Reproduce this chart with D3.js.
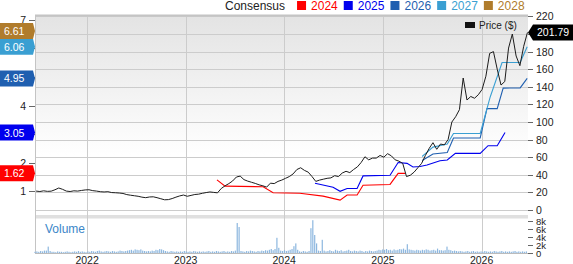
<!DOCTYPE html>
<html>
<head>
<meta charset="utf-8">
<script src="https://cdn.jsdelivr.net/npm/d3@7"></script>
<style>
  body { margin: 0; background: #fff; }
  svg { display: block; font-family: "Liberation Sans", Arial, sans-serif; }
</style>
</head>
<body>
<div id="chart"></div>
<script>

// data

const PRICE_START = "2021-06-26";   // one close every two weeks
const PRICE_BIWEEKLY = [
  21.5, 21, 21.8, 21.2, 21.4, 23, 25, 23.5, 21.5, 21,
  21.8, 21.5, 22.2, 22.8, 23, 22, 21.5, 20.8, 20.5, 20.8,
  19.8, 19.6, 19.3, 18.8, 17.5, 16.8, 16.2, 15.6, 14.6, 14,
  14.8, 15, 14, 12.8, 11.6, 11.8, 13, 14.6, 16, 17,
  15.6, 16.6, 17.6, 18, 19, 19.8, 20.5, 20, 19.5, 24.5,
  27.5, 30, 33, 37.5, 38.5, 34.5, 32.8, 31.5, 30.2, 28.6,
  27.5, 26, 30.5, 30, 32.5, 34, 36, 38, 41, 46,
  48, 45, 43, 38, 32.5, 34, 35, 36, 36.5, 39,
  38, 42, 44, 42.5, 46, 49, 54, 60.5, 57, 59,
  59, 62, 60, 64, 61.5, 57, 55.5, 53, 38, 39.5,
  43, 48, 53, 62, 70, 76.5, 69, 75, 74, 80,
  100, 106, 114, 150, 125, 129, 127, 131, 137, 152,
  178, 180, 160, 142, 146, 184, 200, 175, 164, 186,
  201.79
];
const LAST_PRICE = 201.79;

const VOLUME_START = "2021-06-22";  // weekly, thousands
const VOLUME_WEEKLY_K = [
  0.3, 0.4, 0.3, 0.5, 0.4, 0.6, 0.6, 1.6, 0.5, 0.3,
  0.3, 0.2, 0.4, 0.3, 0.3, 0.2, 0.3, 0.4, 0.3, 0.2,
  0.3, 0.4, 0.3, 0.5, 0.3, 0.4, 0.3, 0.2, 0.4, 0.3,
  0.5, 0.4, 0.3, 0.5, 0.6, 0.4, 0.3, 0.4, 0.5, 0.4,
  0.3, 0.5, 0.4, 0.3, 0.4, 0.6, 0.5, 0.4, 0.5, 0.6,
  0.7, 0.8, 0.6, 0.9, 0.8, 0.7, 0.9, 0.6, 0.5, 0.4,
  0.5, 0.4, 0.6, 0.5, 0.8, 0.7, 1.0, 0.9, 0.7, 0.5,
  0.4, 0.3, 0.5, 0.4, 0.3, 0.4, 0.3, 0.4, 0.3, 0.5,
  0.4, 0.3, 0.4, 0.3, 0.5, 0.4, 0.3, 0.4, 0.3, 0.4,
  0.3, 0.4, 0.5, 0.3, 0.4, 0.3, 0.5, 0.4, 0.3, 0.4,
  0.5, 0.3, 0.4, 0.3, 0.5, 0.4, 0.6, 7.5, 6.5, 0.5,
  0.4, 0.3, 0.5, 0.4, 0.6, 0.5, 0.4, 0.3, 0.5, 0.4,
  0.6, 0.5, 0.7, 0.6, 0.8, 1.0, 0.7, 1.0, 3.8, 1.3,
  0.6, 0.5, 0.7, 0.5, 0.6, 0.8, 1.0, 1.7, 2.4, 0.8,
  0.4, 0.3, 0.5, 0.4, 0.3, 0.5, 6.2, 8.2, 4.5, 2.4,
  0.6, 0.5, 3.3, 0.6, 0.4, 0.5, 0.7, 0.5, 0.4, 0.8,
  0.6, 0.5, 0.7, 0.4, 0.5, 0.6, 0.8, 0.5, 0.4, 0.6,
  0.5, 0.4, 0.6, 0.5, 0.3, 0.5, 0.4, 0.6, 0.5, 0.4,
  0.5, 0.6, 0.8, 0.7, 0.9, 0.8, 1.0, 0.7, 0.8, 0.6,
  0.9, 0.7, 0.8, 1.0, 0.9, 1.1, 0.8, 2.2, 0.9, 0.8,
  0.7, 0.6, 0.8, 0.7, 0.6, 0.8, 0.7, 0.9, 0.8, 0.6,
  0.7, 0.8, 0.6, 1.1, 0.7, 0.7, 0.6, 0.7, 1.6, 0.8,
  0.7, 0.5, 0.6, 0.5, 0.4, 0.5, 0.4, 0.3, 0.4, 0.5,
  0.3, 0.4, 0.5, 0.3, 0.4, 0.3, 0.4, 0.3, 0.5, 0.4,
  0.3, 0.4, 0.3, 0.5, 0.4, 0.3, 0.4, 0.5, 0.3, 0.4,
  0.3, 0.4, 0.3, 0.4, 0.5, 0.3, 0.4, 0.3, 0.4, 0.3,
  0.4
];

// consensus EPS estimates per fiscal year
const EPS_2024_DATES = ["2023-04-27", "2023-05-27", "2023-10-15", "2023-11-21", "2024-02-28",
                        "2024-05-24", "2024-07-26", "2024-08-21", "2024-09-27", "2024-10-19",
                        "2025-01-27", "2025-02-26", "2025-03-24"];
const EPS_2024 = [1.39, 1.17, 1.15, 0.94, 0.92, 0.82, 0.68, 0.86, 0.86, 1.2, 1.23, 1.62, 1.62];

const EPS_2025_DATES = ["2024-04-24", "2024-06-30", "2024-07-26", "2024-08-21", "2024-09-27",
                        "2024-10-19", "2025-01-27", "2025-02-26", "2025-03-31", "2025-04-22",
                        "2025-05-18", "2025-06-13", "2025-07-31", "2025-08-27", "2025-09-26",
                        "2025-12-27", "2026-01-25", "2026-02-28", "2026-03-29"];
const EPS_2025 = [1.27, 1.13, 0.99, 1.09, 1.09, 1.53, 1.55, 2.0, 1.97, 1.84,
                  1.86, 1.91, 2.06, 2.09, 2.32, 2.32, 2.59, 2.59, 3.05];

const EPS_2026_DATES = ["2025-05-26", "2025-07-05", "2025-08-27", "2025-09-19", "2025-12-27",
                        "2026-01-21", "2026-02-28", "2026-03-22", "2026-05-24", "2026-06-19"];
const EPS_2026 = [2.07, 2.30, 2.35, 2.86, 2.86, 3.89, 3.89, 4.61, 4.62, 4.95];

const EPS_2027_DATES = ["2025-05-26", "2025-07-05", "2025-08-27", "2025-09-19", "2025-12-27",
                        "2026-02-02", "2026-03-18", "2026-05-24", "2026-06-19"];
const EPS_2027 = [2.21, 2.54, 2.65, 3.02, 3.02, 4.3, 5.51, 5.51, 6.06];

const EPS_YEARS = ["2024", "2025", "2026", "2027", "2028"];
const EPS_LATEST = [1.62, 3.05, 4.95, 6.06, 6.61];

const PRICE_TICKS = [0, 20, 40, 60, 80, 100, 120, 140, 160, 180, 200, 220];
const EPS_TICKS = [1, 2, 3, 4, 5, 6, 7];
const VOLUME_TICKS = [0, 2, 4, 6, 8];
const YEAR_TICKS = ["2022", "2023", "2024", "2025", "2026"];


// layout

const FRAME_WIDTH = 573;
const FRAME_HEIGHT = 264;
const PLOT = {left: 35, right: 528, top: 15, bottom: 215};
const VOL = {top: 219, bottom: 253};
const COLORS = {"2024": "#ff0000", "2025": "#0000ee", "2026": "#1f5fb0",
                "2027": "#3a9fd2", "2028": "#b07c2c"};

const parse = d3.timeParse("%Y-%m-%d");

const X_SCALE = d3.scaleTime()
                  .domain([parse("2021-06-22"), parse("2026-06-22")])
                  .range([PLOT.left, PLOT.right]);
const PRICE_SCALE = d3.scaleLinear().domain([0, 221.6]).range([210, PLOT.top]);
const EPS_SCALE = d3.scaleLinear().domain([1, 7]).range([191, 20]);
const VOL_SCALE = d3.scaleLinear().domain([0, 8]).range([VOL.bottom, 221]);

const FRAME = d3.select("#chart")
                .append("svg")
                  .attr("width", FRAME_WIDTH)
                  .attr("height", FRAME_HEIGHT);


function build_chart() {

  // background of the price panel
  const grad = FRAME.append("defs").append("linearGradient")
                    .attr("id", "bg").attr("x1", 0).attr("x2", 0).attr("y1", 0).attr("y2", 1);
  grad.append("stop").attr("offset", "0%").attr("stop-color", "#e3e3e3");
  grad.append("stop").attr("offset", "70%").attr("stop-color", "#ffffff");

  FRAME.append("rect")
         .attr("x", PLOT.left).attr("y", PLOT.top)
         .attr("width", PLOT.right - PLOT.left).attr("height", PLOT.bottom - PLOT.top)
         .attr("fill", "url(#bg)");

  // band between the price and volume panels
  FRAME.append("rect")
         .attr("x", PLOT.left).attr("y", 215)
         .attr("width", PLOT.right - PLOT.left).attr("height", 3.5)
         .attr("fill", "#e0e0e0");

  // horizontal grid on price ticks
  FRAME.selectAll(".hgrid")
      .data(PRICE_TICKS)
      .enter()
      .append("line")
        .attr("x1", PLOT.left).attr("x2", PLOT.right)
        .attr("y1", (d) => Math.round(PRICE_SCALE(d)) + 0.5)
        .attr("y2", (d) => Math.round(PRICE_SCALE(d)) + 0.5)
        .attr("stroke", "#cccccc");

  // vertical grid on year starts
  FRAME.selectAll(".vgrid")
      .data(YEAR_TICKS)
      .enter()
      .append("line")
        .attr("x1", (d) => Math.round(X_SCALE(parse(d + "-01-01"))) + 0.5)
        .attr("x2", (d) => Math.round(X_SCALE(parse(d + "-01-01"))) + 0.5)
        .attr("y1", PLOT.top).attr("y2", VOL.bottom)
        .attr("stroke", "#cccccc");

  // frame lines
  FRAME.append("line")
         .attr("x1", PLOT.left + 0.5).attr("x2", PLOT.left + 0.5)
         .attr("y1", PLOT.top).attr("y2", VOL.bottom)
         .attr("stroke", "#c4c4c4");
  FRAME.append("line")
         .attr("x1", PLOT.left).attr("x2", PLOT.right)
         .attr("y1", PLOT.top + 0.5).attr("y2", PLOT.top + 0.5)
         .attr("stroke", "#c4c4c4").attr("stroke-width", 2);
  FRAME.append("line")
         .attr("x1", PLOT.left).attr("x2", PLOT.right)
         .attr("y1", VOL.bottom + 0.5).attr("y2", VOL.bottom + 0.5)
         .attr("stroke", "#bbbbbb");

  // volume bars
  const volStart = parse(VOLUME_START);
  FRAME.selectAll(".vol")
      .data(VOLUME_WEEKLY_K)
      .enter()
      .append("rect")
        .attr("x", (d, i) => X_SCALE(d3.timeWeek.offset(volStart, i)) - 0.6)
        .attr("y", (d) => VOL_SCALE(d))
        .attr("width", 1.2)
        .attr("height", (d) => VOL.bottom - VOL_SCALE(d))
        .attr("fill", "#8db7df");

  FRAME.append("text")
         .attr("x", 45).attr("y", 233)
         .attr("font-size", "12px").attr("fill", "#3b86c8")
         .text("Volume");

  // consensus lines
  const epsLine = d3.line()
                    .x((d) => X_SCALE(d.date))
                    .y((d) => EPS_SCALE(d.v));

  const series = [
    {year: "2024", dates: EPS_2024_DATES, values: EPS_2024},
    {year: "2025", dates: EPS_2025_DATES, values: EPS_2025},
    {year: "2026", dates: EPS_2026_DATES, values: EPS_2026},
    {year: "2027", dates: EPS_2027_DATES, values: EPS_2027}
  ];

  series.forEach((s) => {
    const pts = s.dates.map((d, i) => ({date: parse(d), v: s.values[i]}));
    FRAME.append("path")
           .datum(pts)
           .attr("d", epsLine)
           .attr("fill", "none")
           .attr("stroke", COLORS[s.year])
           .attr("stroke-width", 1.1);
  });

  // price line
  const priceStart = parse(PRICE_START);
  const pricePts = PRICE_BIWEEKLY.map((p, i) => ({date: d3.timeWeek.offset(priceStart, 2 * i), p: p}));
  FRAME.append("path")
         .datum(pricePts)
         .attr("d", d3.line().x((d) => X_SCALE(d.date)).y((d) => PRICE_SCALE(d.p)))
         .attr("fill", "none")
         .attr("stroke", "#1c1c1c")
         .attr("stroke-width", 1);

  // badge centres, so that labels hidden under them are left out
  const priceBadgeY = PRICE_SCALE(LAST_PRICE);
  const epsBadgeY = EPS_LATEST.map((v) => EPS_SCALE(v));

  // right axis, price
  FRAME.selectAll(".rtick")
      .data(PRICE_TICKS)
      .enter()
      .append("line")
        .attr("x1", PLOT.right).attr("x2", PLOT.right + 5)
        .attr("y1", (d) => Math.round(PRICE_SCALE(d)) + 0.5)
        .attr("y2", (d) => Math.round(PRICE_SCALE(d)) + 0.5)
        .attr("stroke", "#666");
  FRAME.selectAll(".rlabel")
      .data(PRICE_TICKS.filter((d) => Math.abs(PRICE_SCALE(d) - priceBadgeY) > 10))
      .enter()
      .append("text")
        .attr("x", PLOT.right + 8)
        .attr("y", (d) => PRICE_SCALE(d) + 4)
        .attr("font-size", "10.5px").attr("fill", "#222")
        .text((d) => d);

  // right axis, volume
  FRAME.selectAll(".vtick")
      .data(VOLUME_TICKS)
      .enter()
      .append("line")
        .attr("x1", PLOT.right).attr("x2", PLOT.right + 5)
        .attr("y1", (d) => Math.round(VOL_SCALE(d)) + 0.5)
        .attr("y2", (d) => Math.round(VOL_SCALE(d)) + 0.5)
        .attr("stroke", "#666");
  FRAME.selectAll(".vlabel")
      .data(VOLUME_TICKS)
      .enter()
      .append("text")
        .attr("x", PLOT.right + 8)
        .attr("y", (d) => VOL_SCALE(d) + 3.5)
        .attr("font-size", "9.5px").attr("fill", "#222")
        .text((d) => d === 0 ? "0" : d + "k");

  // left axis, EPS
  FRAME.selectAll(".ltick")
      .data(EPS_TICKS)
      .enter()
      .append("line")
        .attr("x1", PLOT.left - 6).attr("x2", PLOT.left)
        .attr("y1", (d) => Math.round(EPS_SCALE(d)) + 0.5)
        .attr("y2", (d) => Math.round(EPS_SCALE(d)) + 0.5)
        .attr("stroke", "#666");
  FRAME.selectAll(".llabel")
      .data(EPS_TICKS.filter((d) => epsBadgeY.every((b) => Math.abs(EPS_SCALE(d) - b) > 10)))
      .enter()
      .append("text")
        .attr("x", PLOT.left - 9)
        .attr("y", (d) => EPS_SCALE(d) + 4)
        .attr("text-anchor", "end")
        .attr("font-size", "10.5px").attr("fill", "#222")
        .text((d) => d);

  // bottom axis, years
  FRAME.selectAll(".year")
      .data(YEAR_TICKS)
      .enter()
      .append("text")
        .attr("x", (d) => X_SCALE(parse(d + "-01-01")))
        .attr("y", 264)
        .attr("text-anchor", "middle")
        .attr("font-size", "10.5px").attr("fill", "#222")
        .text((d) => d);

  // left badges with latest estimates
  EPS_YEARS.forEach((yr, i) => {
    const cy = epsBadgeY[i];
    FRAME.append("path")
           .attr("d", "M0," + (cy - 8) + "H33L35," + cy + "L33," + (cy + 8) + "H0Z")
           .attr("fill", COLORS[yr]);
    FRAME.append("text")
           .attr("x", 4).attr("y", cy + 4)
           .attr("font-size", "10.5px").attr("fill", "#fff")
           .text(EPS_LATEST[i].toFixed(2));
  });

  // right badge with last price
  FRAME.append("path")
         .attr("d", "M528," + priceBadgeY + "L533," + (priceBadgeY - 8) + "H573V" +
               (priceBadgeY + 8) + "H533Z")
         .attr("fill", "#000");
  FRAME.append("text")
         .attr("x", 537).attr("y", priceBadgeY + 4)
         .attr("font-size", "10.5px").attr("fill", "#fff")
         .text(LAST_PRICE.toFixed(2));

  // price legend
  FRAME.append("rect")
         .attr("x", 465).attr("y", 22).attr("width", 10).attr("height", 6)
         .attr("fill", "#111");
  FRAME.append("text")
         .attr("x", 479).attr("y", 29)
         .attr("font-size", "10px").attr("fill", "#222")
         .text("Price ($)");

  // consensus legend
  let lx = 225;
  const cons = FRAME.append("text")
                      .attr("x", lx).attr("y", 10)
                      .attr("font-size", "12px").attr("fill", "#222")
                      .text("Consensus");
  lx += cons.node().getComputedTextLength() + 12;

  EPS_YEARS.forEach((yr) => {
    FRAME.append("rect")
           .attr("x", lx).attr("y", 1).attr("width", 9).attr("height", 9)
           .attr("fill", COLORS[yr]);
    const t = FRAME.append("text")
                     .attr("x", lx + 14).attr("y", 10)
                     .attr("font-size", "12px").attr("fill", COLORS[yr])
                     .text(yr);
    lx += 14 + t.node().getComputedTextLength() + 6;
  });
}

build_chart();
</script>
</body>
</html>
